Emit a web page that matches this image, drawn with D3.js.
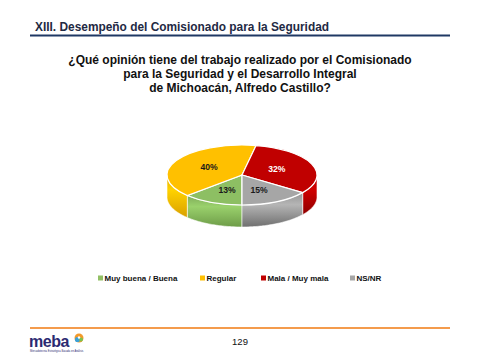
<!DOCTYPE html>
<html><head><meta charset="utf-8">
<script src="https://cdn.jsdelivr.net/npm/d3@7"></script>
<style>html,body{margin:0;padding:0;background:#fff;}svg{display:block;font-family:"Liberation Sans",Arial,sans-serif;}</style>
</head><body>
<script>
const categories = ["Muy buena / Buena", "Regular", "Mala / Muy mala", "NS/NR"];
const values = [13, 40, 32, 15];
const labels = ["13%", "40%", "32%", "15%"];
const topColors = ["#8DBF63", "#FFC000", "#C00000", "#A6A6A6"];
const sideColors = ["#6E9C48", "#D9A000", "#8E0000", "#6F6F6F"];
const labelColors = ["#1a1a1a", "#1a1a1a", "#ffffff", "#1a1a1a"];
const legendColors = ["#92C064", "#FFC000", "#C00000", "#A6A6A6"];

const W = 480, H = 360;
const svg = d3.select("body").append("svg").attr("width", W).attr("height", H);

// header
svg.append("text").attr("x", 35).attr("y", 30.5).attr("font-size", 11.9).attr("font-weight", "bold")
  .attr("fill", "#1F2A44").text("XIII. Desempeño del Comisionado para la Seguridad");
svg.append("line").attr("x1", 30).attr("x2", 450).attr("y1", 35.5).attr("y2", 35.5)
  .attr("stroke", "#1F3864").attr("stroke-width", 2);

// question
const qLines = ["¿Qué opinión tiene del trabajo realizado por el Comisionado",
  "para la Seguridad y el Desarrollo Integral", "de Michoacán, Alfredo Castillo?"];
svg.append("g").selectAll("text").data(qLines).join("text")
  .attr("x", 240).attr("y", (d, i) => 64 + i * 13.8).attr("text-anchor", "middle")
  .attr("font-size", 12).attr("font-weight", "bold").attr("fill", "#111").text(d => d);

// 3D pie
const cx = 242, cy = 175, rx = 75, ry = 30, depth = 22;
const defs = svg.append("defs");
sideColors.forEach((c, i) => {
  const g = defs.append("linearGradient").attr("id", "side" + i).attr("x1", 0).attr("x2", 0).attr("y1", 0).attr("y2", 1);
  g.append("stop").attr("offset", "0%").attr("stop-color", d3.color(topColors[i]).darker(0.3));
  g.append("stop").attr("offset", "35%").attr("stop-color", d3.color(topColors[i]).brighter(0.25));
  g.append("stop").attr("offset", "100%").attr("stop-color", sideColors[i]);
});
const pie = d3.pie().sort(null).value(d => d).startAngle(Math.PI).endAngle(3 * Math.PI);
const arcsData = pie(values);
const ex = a => cx + rx * Math.sin(a);
const ey = a => cy - ry * Math.cos(a);

// sides (front half only)
const sideG = svg.append("g");
arcsData.forEach((d, i) => {
  const segs = [];
  for (let k = -1; k <= 1; k++) {
    const lo = Math.PI / 2 + k * 2 * Math.PI, hi = 3 * Math.PI / 2 + k * 2 * Math.PI;
    const s = Math.max(d.startAngle, lo), e = Math.min(d.endAngle, hi);
    if (e > s) segs.push([s, e]);
  }
  segs.forEach(([s, e]) => {
    const angs = d3.range(s, e, 0.02).concat([e]);
    const pts = angs.map(a => [ex(a), ey(a)]).concat(angs.slice().reverse().map(a => [ex(a), ey(a) + depth]));
    sideG.append("path").attr("d", d3.line()(pts) + "Z")
      .attr("fill", `url(#side${i})`).attr("stroke", "#fff").attr("stroke-width", 0.6);
  });
});

// tops
const arcGen = d3.arc().innerRadius(0).outerRadius(rx);
const topG = svg.append("g").attr("transform", `translate(${cx},${cy}) scale(1,${ry / rx})`);
topG.selectAll("path").data(arcsData).join("path").attr("d", arcGen)
  .attr("fill", (d, i) => topColors[i]).attr("stroke", "#fff").attr("stroke-width", 1.2)
  .attr("vector-effect", "non-scaling-stroke");

// labels
const lblArc = d3.arc().innerRadius(rx * 0.5).outerRadius(rx * 0.5);
svg.append("g").selectAll("text").data(arcsData).join("text")
  .attr("x", d => cx + lblArc.centroid(d)[0])
  .attr("y", d => cy + lblArc.centroid(d)[1] * ry / rx * 1.1 + 3)
  .attr("text-anchor", "middle").attr("font-size", 8.6).attr("font-weight", "bold")
  .attr("fill", (d, i) => labelColors[i]).text((d, i) => labels[i]);

// legend
const legX = [98, 200, 261, 350];
const leg = svg.append("g");
categories.forEach((c, i) => {
  leg.append("rect").attr("x", legX[i]).attr("y", 275.5).attr("width", 5).attr("height", 5).attr("fill", legendColors[i]);
  leg.append("text").attr("x", legX[i] + 6.5).attr("y", 281).attr("font-size", 8).attr("font-weight", "bold")
    .attr("fill", "#111").text(c);
});

// footer
svg.append("line").attr("x1", 30).attr("x2", 450).attr("y1", 328).attr("y2", 328)
  .attr("stroke", "#F07A10").attr("stroke-width", 1.5);
svg.append("text").attr("x", 240).attr("y", 345).attr("text-anchor", "middle").attr("font-size", 9.5)
  .attr("fill", "#111").text("129");
svg.append("text").attr("x", 29).attr("y", 347).attr("font-size", 16).attr("font-weight", "bold")
  .attr("fill", "#2B2A72").attr("letter-spacing", -0.5).text("meba");
const ic = svg.append("g").attr("transform", "translate(79,338)");
ic.append("circle").attr("r", 4.5).attr("fill", "#F39A2B");
ic.append("circle").attr("cx", -1.5).attr("cy", 1.5).attr("r", 2.6).attr("fill", "#3AA0D8");
ic.append("circle").attr("cx", 2).attr("cy", 1.5).attr("r", 2).attr("fill", "#7CC24E");
ic.append("circle").attr("cx", 0).attr("cy", -0.5).attr("r", 1.2).attr("fill", "#fff");
svg.append("text").attr("x", 30).attr("y", 352).attr("font-size", 2.6).attr("fill", "#2B2A72")
  .text("Mercadotecnia Estratégica Basada en Análisis");
</script>
</body></html>
